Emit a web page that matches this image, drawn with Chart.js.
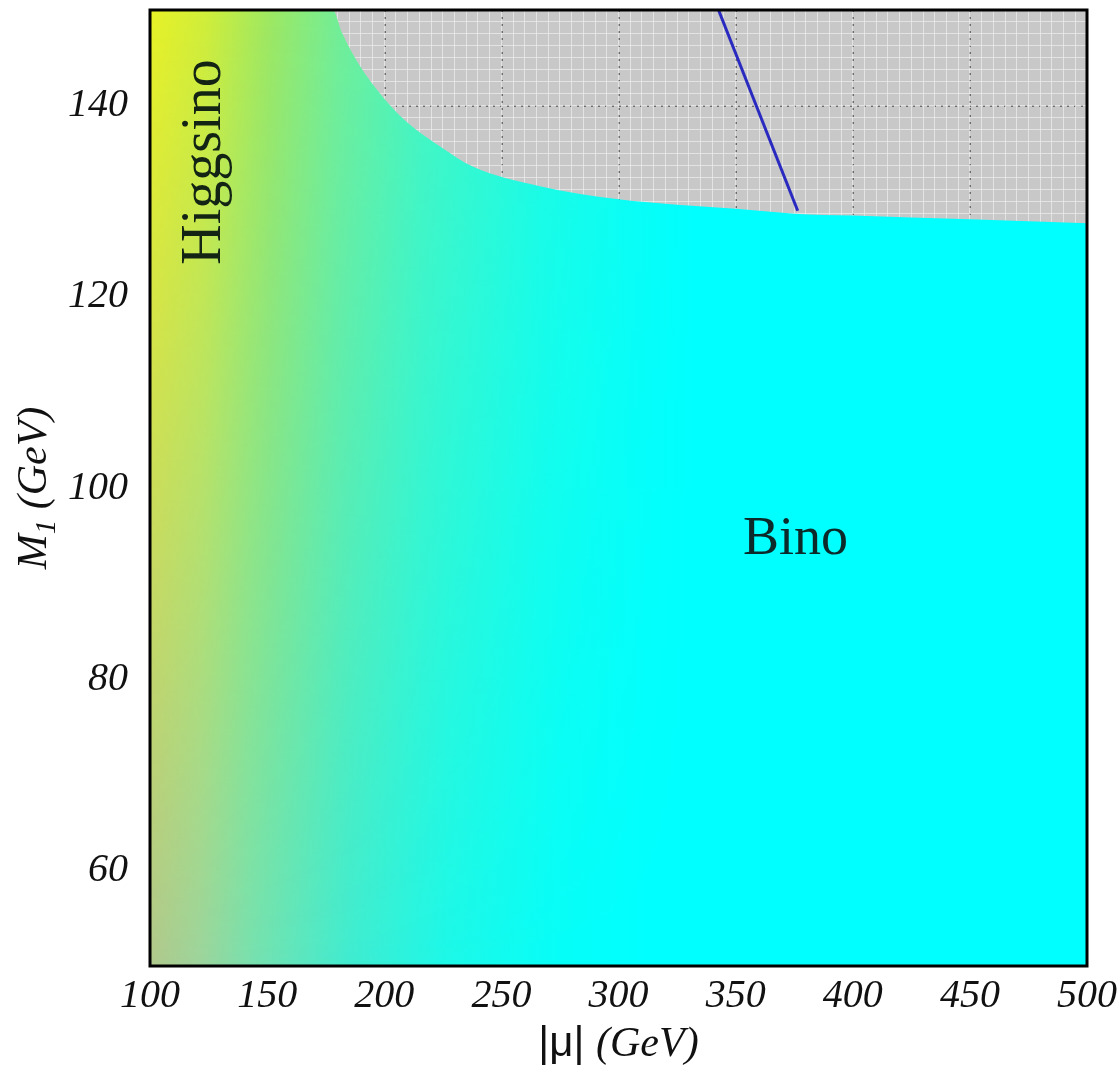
<!DOCTYPE html>
<html>
<head>
<meta charset="utf-8">
<script src="https://cdn.jsdelivr.net/npm/chart.js@4.4.0/dist/chart.umd.min.js"></script>
<style>
  body { margin: 0; background: #fff; }
  #wrap { width: 1120px; height: 1066px; position: relative; }
</style>
</head>
<body>
<div id="wrap"><canvas id="chart"></canvas></div>
<script>
const xTicks = [100, 150, 200, 250, 300, 350, 400, 450, 500];
const yTicks = [60, 80, 100, 120, 140];

// upper edge of the allowed (coloured) region
const edgeMu = [100, 178, 182, 190, 201.5, 210, 224, 238, 266, 300, 350, 375, 400, 450, 500];
const edgeM1 = [150, 150, 147.6, 144, 140.3, 138.2, 135.7, 133.6, 131.6, 130.2, 129.2, 128.7, 128.5, 128.1, 127.7];

// blue contour line
const lineMu = [342.7, 376.5];
const lineM1 = [150, 129];

const serif = '"Liberation Serif", "Times New Roman", serif';
const sans = '"Liberation Sans", Arial, sans-serif';

// colour field of the allowed region: top row blends into bottom row
let fieldCache = null;
function regionFill(context) {
  const chart = context.chart;
  const area = chart.chartArea;
  if (!area) return null;
  const key = [area.left, area.top, area.right, area.bottom].join(',');
  if (fieldCache && fieldCache.key === key) return fieldCache.pattern;

  const w = chart.width, h = chart.height;
  const off = document.createElement('canvas');
  off.width = w; off.height = h;
  const oc = off.getContext('2d');

  const top = oc.createLinearGradient(area.left, 0, area.right, 0);
  top.addColorStop(0, '#e8f226');
  top.addColorStop(0.06, '#d0ee3a');
  top.addColorStop(0.128, '#9ee862');
  top.addColorStop(0.2, '#74ee96');
  top.addColorStop(0.29, '#48f6c0');
  top.addColorStop(0.42, '#1efce4');
  top.addColorStop(0.58, '#00ffff');
  top.addColorStop(1, '#00ffff');
  oc.fillStyle = top;
  oc.fillRect(0, 0, w, h);

  const tmp = document.createElement('canvas');
  tmp.width = w; tmp.height = h;
  const tc = tmp.getContext('2d');
  const bottom = tc.createLinearGradient(area.left, 0, area.right, 0);
  bottom.addColorStop(0, '#b0c88c');
  bottom.addColorStop(0.053, '#9cd49c');
  bottom.addColorStop(0.107, '#78e0ae');
  bottom.addColorStop(0.213, '#40ecd0');
  bottom.addColorStop(0.32, '#1cf8e8');
  bottom.addColorStop(0.44, '#06fef8');
  bottom.addColorStop(0.53, '#00ffff');
  bottom.addColorStop(1, '#00ffff');
  tc.fillStyle = bottom;
  tc.fillRect(0, 0, w, h);
  tc.globalCompositeOperation = 'destination-in';
  const mask = tc.createLinearGradient(0, area.top, 0, area.bottom);
  mask.addColorStop(0, 'rgba(0,0,0,0)');
  mask.addColorStop(1, 'rgba(0,0,0,1)');
  tc.fillStyle = mask;
  tc.fillRect(0, 0, w, h);
  oc.drawImage(tmp, 0, 0);

  const pattern = chart.ctx.createPattern(off, 'no-repeat');
  fieldCache = { key, pattern };
  return pattern;
}

const framePlugin = {
  id: 'frame',
  beforeDraw(chart) {
    const { ctx, chartArea: a } = chart;
    ctx.save();
    ctx.fillStyle = '#c8c8c8';
    ctx.fillRect(a.left, a.top, a.right - a.left, a.bottom - a.top);
    ctx.restore();
  },
  afterDatasetsDraw(chart) {
    const { ctx, chartArea: a, scales } = chart;
    ctx.save();
    // region labels
    ctx.fillStyle = '#142414';
    ctx.font = '56px ' + serif;
    ctx.textAlign = 'center';
    ctx.textBaseline = 'middle';
    ctx.save();
    ctx.translate(scales.x.getPixelForValue(123.5), scales.y.getPixelForValue(134.1));
    ctx.rotate(-Math.PI / 2);
    ctx.fillText('Higgsino', 0, 0);
    ctx.restore();
    ctx.fillStyle = '#0c2a2a';
    ctx.font = '54px ' + serif;
    ctx.fillText('Bino', scales.x.getPixelForValue(375.6), scales.y.getPixelForValue(94.6));
    // frame
    ctx.strokeStyle = '#000';
    ctx.lineWidth = 3;
    ctx.strokeRect(a.left, a.top, a.right - a.left, a.bottom - a.top);
    ctx.restore();
  },
  afterDraw(chart) {
    const { ctx, chartArea: a } = chart;
    const cx = (a.left + a.right) / 2;
    ctx.save();
    ctx.fillStyle = '#111';
    ctx.textBaseline = 'alphabetic';
    ctx.textAlign = 'left';
    // x title: |μ| (GeV)
    const p1 = '|μ| ', p2 = '(GeV)';
    ctx.font = '42px ' + sans;
    const w1 = ctx.measureText(p1).width;
    ctx.font = 'italic 42px ' + serif;
    const w2 = ctx.measureText(p2).width;
    let x = cx - (w1 + w2) / 2;
    ctx.font = '42px ' + sans;
    ctx.fillText(p1, x, 1056);
    ctx.font = 'italic 42px ' + serif;
    ctx.fillText(p2, x + w1, 1056);
    // y title: M1 (GeV)
    const cy = (a.top + a.bottom) / 2;
    ctx.translate(46, cy);
    ctx.rotate(-Math.PI / 2);
    ctx.font = 'italic 42px ' + serif;
    const wm = ctx.measureText('M').width;
    const wg = ctx.measureText(' (GeV)').width;
    ctx.font = 'italic 29px ' + serif;
    const ws = ctx.measureText('1').width;
    x = -(wm + ws + wg) / 2;
    ctx.font = 'italic 42px ' + serif;
    ctx.fillText('M', x, 0);
    ctx.font = 'italic 29px ' + serif;
    ctx.fillText('1', x + wm, 9);
    ctx.font = 'italic 42px ' + serif;
    ctx.fillText(' (GeV)', x + wm + ws, 0);
    ctx.restore();
  }
};

const tickFont = { family: serif, style: 'italic', size: 40 };

new Chart(document.getElementById('chart'), {
  type: 'line',
  data: {
    datasets: [
      {
        label: 'contour',
        data: lineMu.map((m, i) => ({ x: m, y: lineM1[i] })),
        borderColor: '#2a2ac0',
        borderWidth: 3,
        pointRadius: 0,
        fill: false,
        order: 0
      },
      {
        label: 'allowed',
        data: edgeMu.map((m, i) => ({ x: m, y: edgeM1[i] })),
        borderColor: 'rgba(0,0,0,0)',
        borderWidth: 0,
        pointRadius: 0,
        fill: 'start',
        backgroundColor: regionFill,
        cubicInterpolationMode: 'monotone',
        order: 1
      }
    ]
  },
  options: {
    responsive: true,
    maintainAspectRatio: false,
    animation: false,
    layout: { padding: 0 },
    plugins: { legend: { display: false }, tooltip: { enabled: false } },
    scales: {
      x: {
        type: 'linear', position: 'bottom', min: 100, max: 500,
        afterBuildTicks: s => { s.ticks = xTicks.map(v => ({ value: v })); },
        afterFit: s => { s.height = 100; s.paddingLeft = 0; s.paddingRight = 0; },
        ticks: { font: tickFont, color: '#111', padding: 6, maxRotation: 0 },
        grid: { color: '#111', lineWidth: 1.5, drawTicks: false },
        border: { display: false, dash: [2, 5] }
      },
      y: {
        type: 'linear', position: 'left', min: 50, max: 150,
        afterBuildTicks: s => { s.ticks = yTicks.map(v => ({ value: v })); },
        afterFit: s => { s.width = 150; s.paddingTop = 0; s.paddingBottom = 0; },
        ticks: { font: tickFont, color: '#111', padding: 22 },
        grid: { color: '#111', lineWidth: 1.5, drawTicks: false },
        border: { display: false, dash: [2, 5] }
      },
      x2: {
        type: 'linear', position: 'top', min: 100, max: 500,
        afterFit: s => { s.height = 10; },
        ticks: { display: false, stepSize: 5 },
        grid: { color: 'rgba(236,236,236,0.75)', lineWidth: 1, drawTicks: false },
        border: { display: false }
      },
      y2: {
        type: 'linear', position: 'right', min: 50, max: 150,
        afterFit: s => { s.width = 33; },
        ticks: { display: false, stepSize: 1.25 },
        grid: { color: 'rgba(236,236,236,0.75)', lineWidth: 1, drawTicks: false },
        border: { display: false }
      }
    }
  },
  plugins: [framePlugin]
});
</script>
</body>
</html>
